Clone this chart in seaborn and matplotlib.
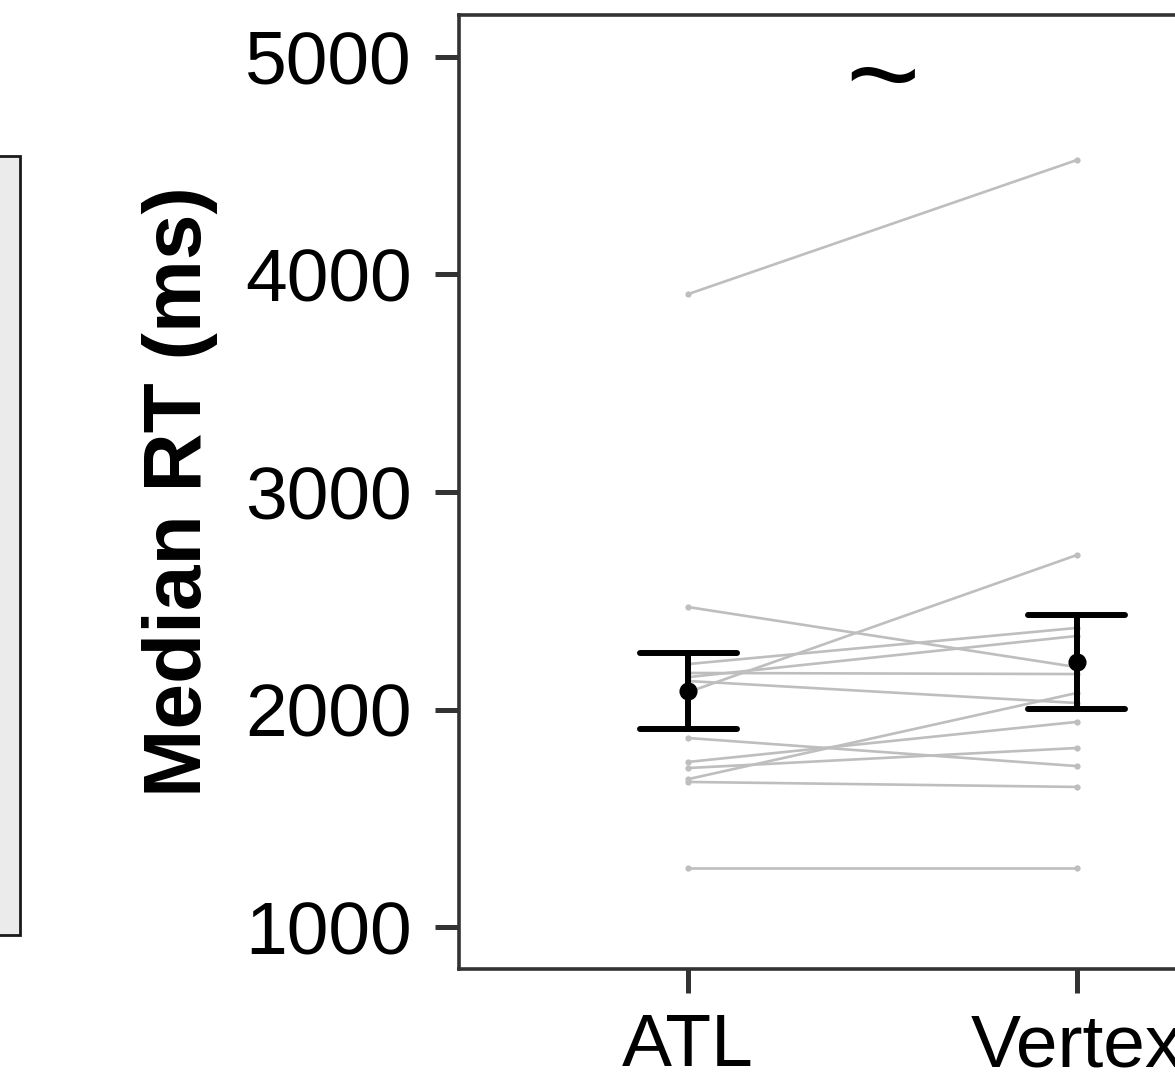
import matplotlib
matplotlib.use("Agg")
import matplotlib.pyplot as plt
from matplotlib.patches import Rectangle
import seaborn as sns
import pandas as pd
import numpy as np

# Conditions and per-subject median RTs (ms)
conditions = ["ATL", "Vertex"]
atl_rt = [3910, 2471, 2209, 2168, 2149, 2131, 2080, 1869, 1759, 1731, 1680, 1667, 1271]
vertex_rt = [4526, 2195, 2375, 2163, 2338, 2030, 2710, 1740, 1943, 1823, 2076, 1644, 1271]
y_ticks = [1000, 2000, 3000, 4000, 5000]
annotation = "~"

subjects = list(range(1, len(atl_rt) + 1))
df = pd.DataFrame({
    "subject": subjects * 2,
    "condition": [conditions[0]] * len(atl_rt) + [conditions[1]] * len(vertex_rt),
    "rt": atl_rt + vertex_rt,
})
df["pos"] = df["condition"].map({c: i for i, c in enumerate(conditions)})

sns.set_style("white")
plt.rcParams["font.family"] = ["Liberation Sans", "DejaVu Sans"]

fig = plt.figure(figsize=(11.75, 10.79), dpi=100)
ax = fig.add_axes([459 / 1175, 1 - 969 / 1079, (1306 - 459) / 1175, (969 - 15) / 1079])

# Individual subject lines
sns.lineplot(data=df, x="pos", y="rt", units="subject", estimator=None,
             color="#BEBEBE", linewidth=1.9, marker="o", markersize=4.5,
             markeredgewidth=0, ax=ax, legend=False)

# Condition means with standard error
sns.pointplot(data=df, x="condition", y="rt", order=conditions, errorbar="se",
              capsize=0.25, linestyle="none", color="black", markersize=11,
              err_kws={"linewidth": 4.3}, ax=ax)

ax.text(0.5, 4870, annotation, fontsize=92, ha="center", va="center", color="black")

ax.set_xlim(-0.59, 1.59)
ax.set_ylim(807, 5193)
ax.set_xticks([0, 1])
ax.set_xticklabels(conditions)
ax.set_yticks(y_ticks)
ax.set_xlabel("")
ax.set_ylabel("Median RT (ms)", fontsize=59, fontweight="bold", color="black")
ax.yaxis.set_label_coords(-0.2845, 0.5)

ax.tick_params(axis="both", which="major", labelsize=54, length=17, width=3.6,
               color="#333333", labelcolor="black", direction="out",
               bottom=True, left=True)
ax.tick_params(axis="y", pad=17)
ax.tick_params(axis="x", pad=14)
for spine in ax.spines.values():
    spine.set_visible(True)
    spine.set_color("#333333")
    spine.set_linewidth(2.6)

# Edge of the neighbouring panel strip on the left
fig.patches.append(Rectangle((-0.01, 1 - 935 / 1079), 0.01 + 20 / 1175, (935 - 156) / 1079,
                             transform=fig.transFigure, facecolor="#EBEBEB",
                             edgecolor="#1A1A1A", linewidth=2, zorder=0))

fig.savefig("out.png", dpi=100)
